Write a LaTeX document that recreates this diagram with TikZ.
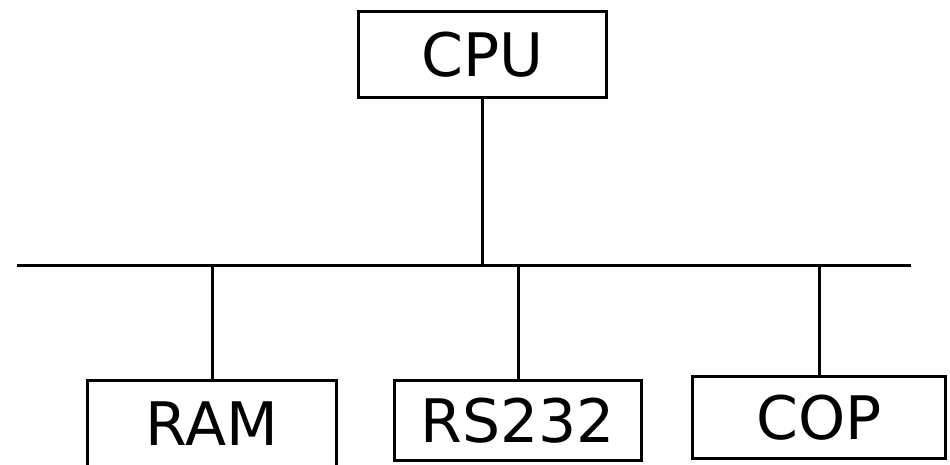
\documentclass[tikz,border=0pt]{standalone}
\usepackage{fontspec}
\setmainfont{DejaVu Sans}
\begin{document}
\begin{tikzpicture}[x=1pt,y=-1pt,
  box/.style={draw=black,line width=3pt,rectangle,inner sep=0pt,
    font=\fontsize{60}{72}\selectfont},
  wire/.style={draw=black,line width=3pt}]
\useasboundingbox (0,0) rectangle (950,464);
\clip (0,0) rectangle (950,464);
\node[box,minimum width=248pt,minimum height=86pt] (cpu) at (482.5,54.5) {CPU};
\node[box,minimum width=249pt,minimum height=88pt] (ram) at (212,424) {RAM};
\node[box,minimum width=247pt,minimum height=80pt] (rs) at (518,420.5) {RS232};
\node[box,minimum width=253pt,minimum height=82pt] (cop) at (819,417.5) {COP};
\coordinate (busL) at (17,265);
\coordinate (busR) at (911,265);
\draw[wire] (busL) -- (busR);
\draw[wire] (cpu.south) -- (cpu.south |- busL);
\draw[wire] (ram.north) -- (ram.north |- busL);
\draw[wire] (rs.north) -- (rs.north |- busL);
\draw[wire] (cop.north) -- (cop.north |- busL);
\end{tikzpicture}
\end{document}
